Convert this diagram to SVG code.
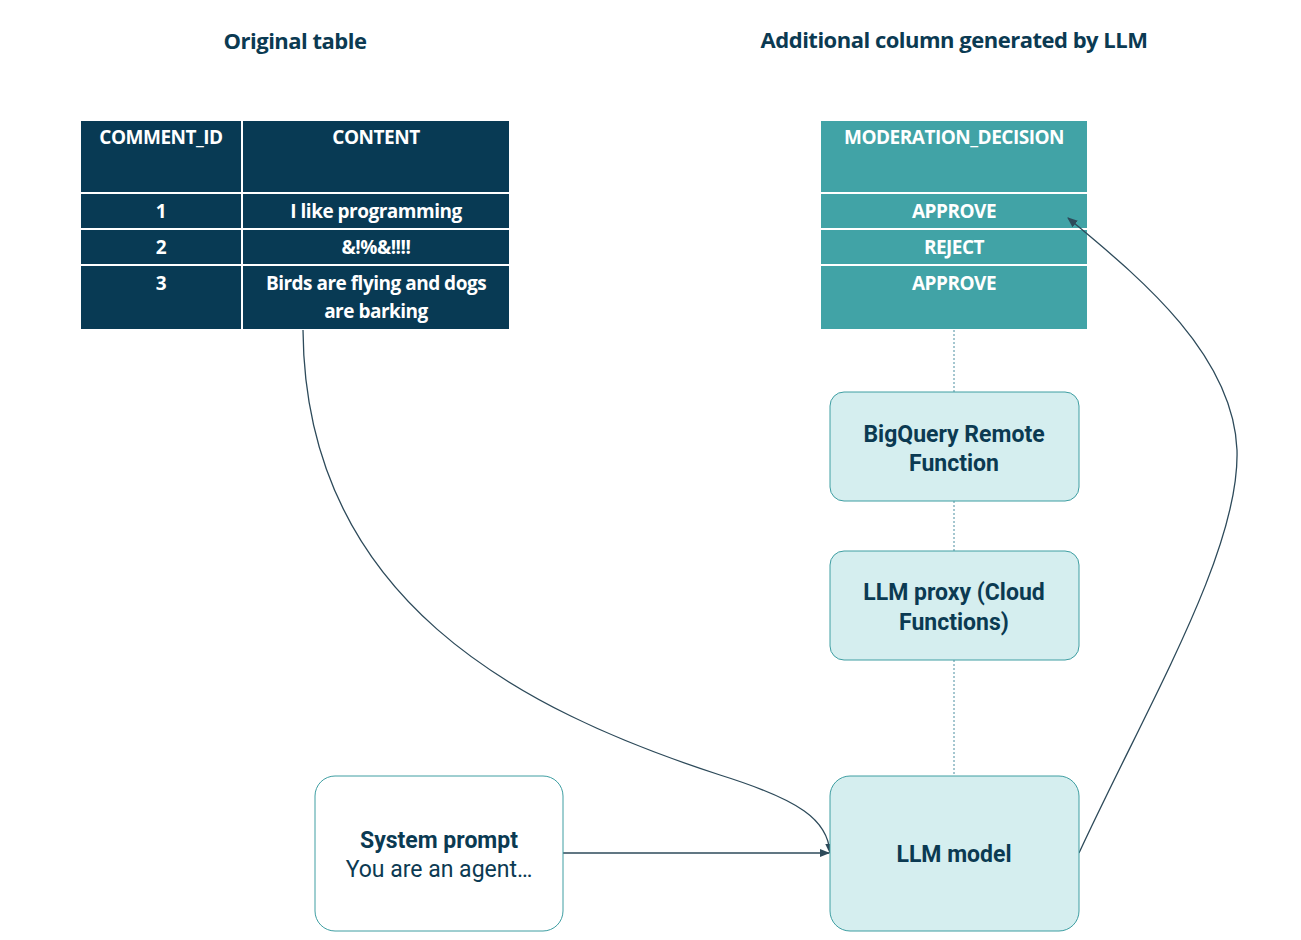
<svg xmlns="http://www.w3.org/2000/svg" width="1301" height="940" viewBox="0 0 1301 940">
<style>
.t{font-family:"Open Sans","Liberation Sans",sans-serif;font-weight:700;fill:#fff;font-size:19px;text-anchor:middle;letter-spacing:-0.5px}
.h{font-family:"Open Sans","Liberation Sans",sans-serif;font-weight:700;fill:#0b3a52;font-size:22px;text-anchor:middle;letter-spacing:-0.5px}
.n{font-family:Roboto,"Liberation Sans",sans-serif;font-weight:700;fill:#0b3a52;font-size:23px;text-anchor:middle}
.dk{fill:#083a54;stroke:#fff;stroke-width:2}
.tl{fill:#41a3a6;stroke:#fff;stroke-width:2}
.nd{fill:#d5eeef;stroke:#3e9ea2;stroke-width:1}
.c{fill:none;stroke:#2d4a5a;stroke-width:1.3}
.d{stroke:#4a8ea0;stroke-width:1;stroke-dasharray:2 2}
</style>
<defs><marker id="a" viewBox="0 0 10 10" refX="9" refY="5" markerWidth="8" markerHeight="8" orient="auto"><path d="M0,1L10,5L0,9z" fill="#2d4a5a"/></marker></defs>
<text class="h" x="295" y="49">Original table</text>
<text class="h" x="954" y="48">Additional column generated by LLM</text>
<g id="orig-table">
<rect class="dk" x="80" y="120" width="162" height="73"/><rect class="dk" x="242" y="120" width="268" height="73"/>
<rect class="dk" x="80" y="193" width="162" height="36"/><rect class="dk" x="242" y="193" width="268" height="36"/>
<rect class="dk" x="80" y="229" width="162" height="36"/><rect class="dk" x="242" y="229" width="268" height="36"/>
<rect class="dk" x="80" y="265" width="162" height="65"/><rect class="dk" x="242" y="265" width="268" height="65"/>
<text class="t" x="161" y="144">COMMENT_ID</text><text class="t" x="376" y="144">CONTENT</text>
<text class="t" x="161" y="218">1</text><text class="t" x="376" y="218">I like programming</text>
<text class="t" x="161" y="254">2</text><text class="t" x="376" y="254">&amp;!%&amp;!!!!</text>
<text class="t" x="161" y="290">3</text><text class="t" x="376" y="290">Birds are flying and dogs</text><text class="t" x="376" y="318">are barking</text>
</g>
<g id="decision-table">
<rect class="tl" x="820" y="120" width="268" height="73"/>
<rect class="tl" x="820" y="193" width="268" height="36"/>
<rect class="tl" x="820" y="229" width="268" height="36"/>
<rect class="tl" x="820" y="265" width="268" height="65"/>
<text class="t" x="954" y="144">MODERATION_DECISION</text>
<text class="t" x="954" y="218">APPROVE</text><text class="t" x="954" y="254">REJECT</text><text class="t" x="954" y="290">APPROVE</text>
</g>
<g id="connectors">
<line class="d" x1="954" y1="330" x2="954" y2="392"/>
<line class="d" x1="954" y1="501" x2="954" y2="551"/>
<line class="d" x1="954" y1="660" x2="954" y2="776"/>
<path class="c" d="M303,330 C305,600 520,710 720,775 C800,800 828,820 830,853" marker-end="url(#a)"/>
<line class="c" x1="563" y1="853" x2="829" y2="853" marker-end="url(#a)"/>
<path class="c" d="M1079,853 C1150,700 1240,550 1237,450 C1233,350 1130,270 1068,218" marker-end="url(#a)"/>
</g>
<g id="bq"><rect class="nd" x="830" y="392" width="249" height="109" rx="14"/><text class="n" x="954" y="442">BigQuery Remote</text><text class="n" x="954" y="471">Function</text></g>
<g id="proxy"><rect class="nd" x="830" y="551" width="249" height="109" rx="14"/><text class="n" x="954" y="600">LLM proxy (Cloud</text><text class="n" x="954" y="630">Functions)</text></g>
<g id="llm"><rect class="nd" x="830" y="776" width="249" height="155" rx="20"/><text class="n" x="954" y="862">LLM model</text></g>
<g id="prompt"><rect x="315" y="776" width="248" height="155" rx="20" fill="#fff" stroke="#3e9ea2"/><text class="n" x="439" y="848">System prompt</text><text x="439" y="877" text-anchor="middle" font-family="Roboto,'Liberation Sans',sans-serif" font-size="23" fill="#0b3a52">You are an agent…</text></g>
</svg>
